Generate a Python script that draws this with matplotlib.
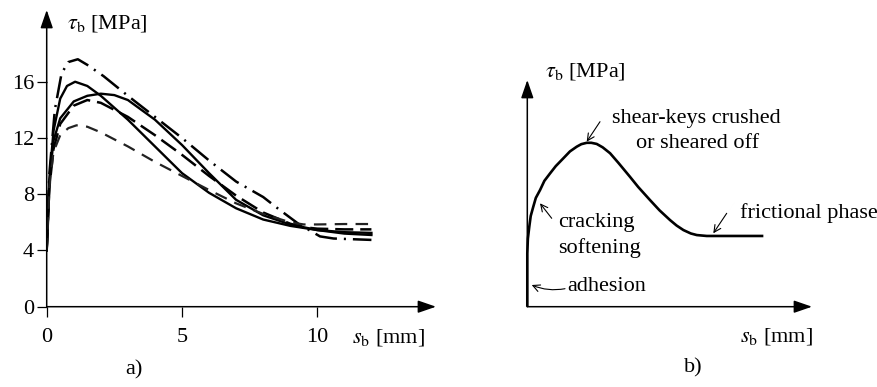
import matplotlib
matplotlib.use("Agg")
import matplotlib.pyplot as plt

plt.rcParams['font.family'] = ['Liberation Serif', 'DejaVu Serif']
plt.rcParams['mathtext.fontset'] = 'stix'
plt.rcParams['lines.scale_dashes'] = False

# ---------------- data: panel a) ----------------
xa = [0, 0.1, 0.3, 0.55, 0.8, 1.15, 1.5, 2.1, 3, 4, 5, 6, 7, 8, 8.6, 9.3, 10.1, 10.6, 12]
ya = [4, 9.5, 14, 16.6, 17.4, 17.6, 17.2, 16.4, 15.0, 13.5, 12.0, 10.4, 8.9, 7.8, 6.9, 5.9, 5.0, 4.85, 4.75]

xb = [0, 0.1, 0.25, 0.5, 0.75, 1.05, 1.5, 2, 3, 4, 5, 6, 7, 8, 9, 10, 11, 12]
yb = [4, 9, 12.5, 14.8, 15.7, 16.0, 15.7, 15.0, 13.3, 11.4, 9.5, 8.1, 7.0, 6.2, 5.75, 5.45, 5.3, 5.25]

xc = [0, 0.1, 0.25, 0.5, 1, 1.5, 2, 2.5, 3, 4, 5, 6, 7, 8, 9, 10, 11, 12]
yc = [4, 9, 11.8, 13.4, 14.6, 15.0, 15.15, 15.05, 14.7, 13.3, 11.5, 9.5, 7.6, 6.5, 5.85, 5.45, 5.2, 5.1]

xd = [0, 0.1, 0.25, 0.5, 1, 1.5, 2, 3, 4, 5, 6, 7, 8, 9, 9.5, 10, 11, 12]
yd = [4, 8.5, 11.2, 13.0, 14.3, 14.7, 14.5, 13.5, 12.2, 10.8, 9.3, 7.9, 6.7, 5.9, 5.65, 5.55, 5.5, 5.5]

xe = [0, 0.1, 0.25, 0.5, 0.8, 1.1, 1.5, 2, 3, 4, 5, 6, 7, 8, 9, 9.5, 10, 11, 12]
ye = [4, 8.5, 11.0, 12.2, 12.7, 12.9, 12.8, 12.4, 11.4, 10.3, 9.3, 8.3, 7.35, 6.6, 6.0, 5.85, 5.85, 5.88, 5.88]

xticks_a = [0, 5, 10]
yticks_a = [0, 4, 8, 12, 16]

# ---------------- data: panel b) ----------------
xs = [0.0, 0.0, 0.02, 0.07, 0.12, 0.21, 0.3, 0.45, 0.6, 0.8, 1.0, 1.27, 1.5, 1.74, 1.9, 2.09,
      2.25, 2.44, 2.65, 2.91, 3.2, 3.61, 3.9, 4.31, 4.65, 5.02, 5.25, 5.49, 5.75, 5.96, 6.31, 8.3]
ys = [0.0, 2.35, 3.0, 3.53, 4.0, 4.41, 4.8, 5.15, 5.55, 5.88, 6.2, 6.55, 6.85, 7.06, 7.17, 7.23,
      7.23, 7.18, 7.03, 6.77, 6.35, 5.73, 5.28, 4.71, 4.25, 3.82, 3.58, 3.38, 3.23, 3.16, 3.12, 3.12]

W, H = 877, 387
fig = plt.figure(figsize=(W / 100, H / 100), dpi=100)

def fpx(x, y):
    return (x, H - y)

FS = 16

# ---------------- panel a) ----------------
ox, oy = 46.7, 306.7
sx, sy = 27.06, 14.06
ax1 = fig.add_axes([ox / W, (H - oy) / H, 14 * sx / W, 20 * sy / H])
ax1.set_xlim(0, 14)
ax1.set_ylim(0, 20)
for s in ax1.spines.values():
    s.set_visible(False)
ax1.patch.set_alpha(0)

ax1.plot(xa, ya, color='k', lw=1.8, linestyle=(0, (16, 5, 1.5, 5)))
ax1.plot(xb, yb, color='k', lw=1.7)
ax1.plot(xc, yc, color='k', lw=1.7)
ax1.plot(xd, yd, color='k', lw=1.8, linestyle=(0, (13, 5)))
ax1.plot(xe, ye, color='#222222', lw=1.6, linestyle=(0, (9, 6)))

ax1.set_xticks(xticks_a)
ax1.set_yticks(yticks_a)
ax1.tick_params(axis='x', direction='out', length=7, width=0.9, pad=8, labelsize=FS)
ax1.tick_params(axis='y', direction='out', length=7, width=0.9, pad=2, labelsize=FS)

arrow_kw = dict(arrowstyle='-|>,head_length=1.1,head_width=0.38', lw=1.1,
                color='k', mutation_scale=10, shrinkA=0, shrinkB=0)
fig.add_artist(plt.Annotation('', xy=fpx(436, oy), xytext=fpx(ox, oy), xycoords='figure pixels',
                              textcoords='figure pixels', arrowprops=arrow_kw))
fig.add_artist(plt.Annotation('', xy=fpx(ox, 10), xytext=fpx(ox, oy), xycoords='figure pixels',
                              textcoords='figure pixels', arrowprops=arrow_kw))

fig.text(66.7 / W, 1 - 24 / H, r'$\tau_{\rm b}$ [MPa]', fontsize=FS, ha='left', va='center')
fig.text(352 / W, 1 - 338 / H, r'$s_{\rm b}$ [mm]', fontsize=FS, ha='left', va='center')
fig.text(134 / W, 1 - 370 / H, 'a)', fontsize=FS, ha='center', va='center')

# ---------------- panel b) ----------------
bx, by = 527.3, 306.7
bsx, bsy = 28.44, 22.67
ax2 = fig.add_axes([bx / W, (H - by) / H, 10 * bsx / W, 10 * bsy / H])
ax2.set_xlim(0, 10)
ax2.set_ylim(0, 10)
for s in ax2.spines.values():
    s.set_visible(False)
ax2.set_xticks([])
ax2.set_yticks([])
ax2.patch.set_alpha(0)
ax2.plot(xs, ys, color='k', lw=1.9, solid_capstyle='butt', solid_joinstyle='round', clip_on=False)

fig.add_artist(plt.Annotation('', xy=fpx(812, by), xytext=fpx(bx, by), xycoords='figure pixels',
                              textcoords='figure pixels', arrowprops=arrow_kw))
fig.add_artist(plt.Annotation('', xy=fpx(bx, 80), xytext=fpx(bx, by), xycoords='figure pixels',
                              textcoords='figure pixels', arrowprops=arrow_kw))

fig.text(545 / W, 1 - 71.7 / H, r'$\tau_{\rm b}$ [MPa]', fontsize=FS, ha='left', va='center')
fig.text(740 / W, 1 - 336.7 / H, r'$s_{\rm b}$ [mm]', fontsize=FS, ha='left', va='center')
fig.text(693.3 / W, 1 - 368.3 / H, 'b)', fontsize=FS, ha='center', va='center')

fig.text(696 / W, 1 - 118 / H, 'shear-keys crushed', fontsize=FS, ha='center', va='center')
fig.text(698 / W, 1 - 143 / H, 'or sheared off', fontsize=FS, ha='center', va='center')
fig.text(558.3 / W, 1 - 222.7 / H, 'cracking', fontsize=FS, ha='left', va='center')
fig.text(558.3 / W, 1 - 248.3 / H, 'softening', fontsize=FS, ha='left', va='center')
fig.text(567.3 / W, 1 - 286.7 / H, 'adhesion', fontsize=FS, ha='left', va='center')
fig.text(740 / W, 1 - 213.3 / H, 'frictional phase', fontsize=FS, ha='left', va='center')

thin = dict(arrowstyle='->,head_length=0.5,head_width=0.25', lw=0.8, color='k',
            mutation_scale=10, shrinkA=0, shrinkB=0)
for (x0, y0, x1, y1, rad) in [(600, 121.7, 586.7, 141.7, 0.0),
                              (551.7, 218.3, 540, 203.3, 0.0),
                              (565, 288.7, 531.7, 285, -0.15),
                              (726.7, 213.3, 713.3, 233.3, 0.0)]:
    kw = dict(thin)
    kw['connectionstyle'] = f'arc3,rad={rad}'
    fig.add_artist(plt.Annotation('', xy=fpx(x1, y1), xytext=fpx(x0, y0), xycoords='figure pixels',
                                  textcoords='figure pixels', arrowprops=kw))

fig.savefig('out.png', dpi=100)
